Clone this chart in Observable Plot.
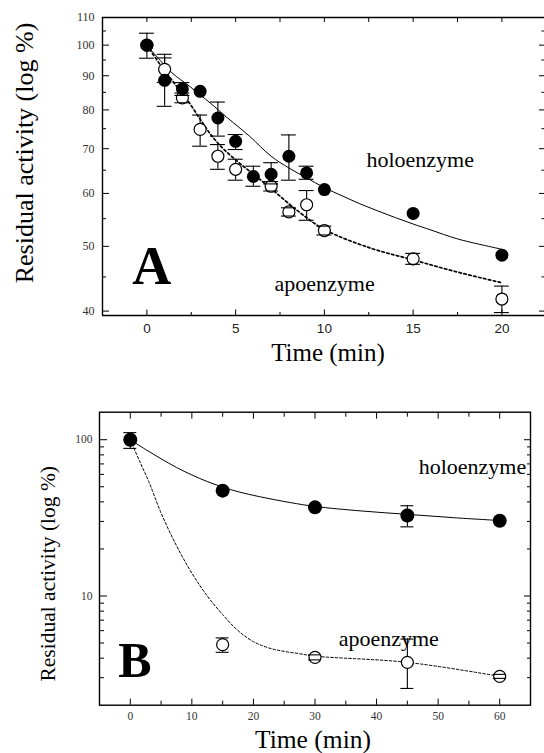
<!DOCTYPE html>
<html><head><meta charset="utf-8">
<script src="https://cdn.jsdelivr.net/npm/d3@7"></script>
<script src="https://cdn.jsdelivr.net/npm/@observablehq/plot@0.6"></script>
<style>
body{margin:0;background:#fff;}
#wrap{position:relative;width:544px;height:753px;overflow:hidden;background:#fff;}
.panel{position:absolute;left:0;}
.title{position:absolute;font-family:"Liberation Serif",serif;color:#000;white-space:nowrap;text-align:center;line-height:1;}
</style></head><body>
<div id="wrap">
  <div id="pa" class="panel" style="top:0px"></div>
  <div id="pb" class="panel" style="top:390px"></div>
  <div class="title" id="yTitleA"></div>
  <div class="title" id="xTitleA"></div>
  <div class="title" id="yTitleB"></div>
  <div class="title" id="xTitleB"></div>
</div>
<script>
// ---------------- Panel A data ----------------
const holoTimeA = [0, 1, 2, 3, 4, 5, 6, 7, 8, 9, 10, 15, 20];
const holoA     = [100, 88.6, 86.0, 85.3, 77.8, 71.8, 63.6, 64.1, 68.2, 64.4, 60.8, 56.0, 48.5];
const holoLoA   = [95.6, 81.0, 84.1, null, 73.1, 69.8, 61.5, 62.0, 62.8, 63.0, null, null, null];
const holoHiA   = [104.2, 95.7, 87.9, null, 82.2, 73.5, 65.9, 66.7, 73.4, 65.9, null, null, null];

const apoTimeA = [0, 1, 2, 3, 4, 5, 7, 8, 9, 10, 15, 20];
const apoA     = [100, 92.0, 83.4, 74.8, 68.2, 65.2, 61.5, 56.3, 57.7, 52.8, 47.9, 41.7];
const apoLoA   = [null, 88.0, 82.0, 70.6, 65.2, 62.8, 60.5, 55.5, 54.7, 52.0, 47.0, 39.8];
const apoHiA   = [null, 96.9, 84.8, 78.6, 71.0, 67.5, 62.5, 57.1, 60.6, 53.6, 48.8, 43.6];

// fitted curves
const holoFitTimeA = [0, 1.4, 2.4, 3.6, 4.5, 5.8, 7, 8, 9, 10, 11, 12, 13, 14, 15, 16, 17.5, 20];
const holoFitA     = [100, 91, 86.8, 81.8, 78, 73, 68.2, 65.5, 63.3, 61.2, 59.5, 57.9, 56.5, 55.2, 54.0, 52.9, 51.3, 49.5];
const apoFitTimeA  = [0, 0.75, 1.5, 2.25, 3, 3.6, 4.3, 5.25, 6.2, 7, 8.5, 10, 12.6, 14.9, 17.3, 20];
const apoFitA      = [100, 93.5, 88, 83, 77.5, 73.5, 70, 66.5, 63.5, 61, 56.5, 53, 49.7, 47.8, 45.9, 44.1];

const xDomainA = [-2.5, 22.4];
const yDomainA = [39.4, 110];
const xMajorA = [0, 5, 10, 15, 20];
const xMinorA = [2.5, 7.5, 12.5, 17.5];
const yMajorA = [40, 50, 60, 70, 80, 90, 100, 110];
const yMinorA = [45, 55, 65, 75, 85, 95, 105];

const annTextA = ["holoenzyme", "apoenzyme"];
const annXA = [12.37, 7.19];
const annYA = [67.3, 43.9];
const panelLabelA = ["A"];
const panelLabelXA = [-0.83];
const panelLabelYA = [46.6];

// ---------------- Panel B data ----------------
const holoTimeB = [0, 15, 30, 45, 60];
const holoB     = [100, 47.2, 36.9, 32.7, 30.3];
const holoLoB   = [88, null, null, 27.7, null];
const holoHiB   = [111, null, null, 37.8, null];

const apoTimeB = [0, 15, 30, 45, 60];
const apoB     = [100, 4.88, 4.05, 3.76, 3.06];
const apoLoB   = [null, 4.36, 3.9, 2.56, 2.97];
const apoHiB   = [null, 5.39, 4.2, 5.3, 3.15];

const holoFitTimeB = [0, 2.5, 5, 7.5, 10, 12.5, 15, 17.5, 21, 26, 30, 37.5, 45, 52.5, 60];
const holoFitB     = [100, 86.5, 75.5, 66.5, 59.5, 54, 49.8, 46.5, 43.2, 39.6, 37.4, 35, 33.3, 31.7, 30.4];
const apoFitTimeB  = [0, 1.5, 3, 5, 7.5, 10, 12.5, 15, 17.5, 20, 22.5, 25, 27.5, 30, 45, 60];
const apoFitB      = [100, 73, 54, 34, 21, 14, 10, 7.6, 6.0, 5.1, 4.65, 4.42, 4.27, 4.12, 3.76, 3.06];

const xDomainB = [-5, 65];
const yDomainB = [2, 150];
const xMajorB = [0, 10, 20, 30, 40, 50, 60];
const xMinorB = [5, 15, 25, 35, 45, 55];
const yMajorB = [10, 100];
const yMinorB = [3, 4, 5, 6, 7, 8, 9, 20, 30, 40, 50, 60, 70, 80, 90];

const annTextB = ["holoenzyme", "apoenzyme"];
const annXB = [46.84, 33.84];
const annYB = [66.9, 5.33];
const panelLabelB = ["B"];
const panelLabelXB = [-1.95];
const panelLabelYB = [3.86];

// ---------------- helpers ----------------
const zip = (t, v, lo, hi) => t.map((d, i) => ({t: d, v: v[i], lo: lo ? lo[i] : null, hi: hi ? hi[i] : null}));
const errs = (rows) => rows.filter(d => d.lo != null && d.hi != null);
const serif = "Liberation Serif";
const blank = () => "";

function tickAxes(xMaj, xMin, yMaj, yMin, sz) {
  const o = {stroke: "black", strokeWidth: 1, label: null, tickFormat: blank};
  return [
    Plot.axisX({...o, anchor: "bottom", ticks: xMaj, tickSize: -sz.xb}),
    Plot.axisX({...o, anchor: "bottom", ticks: xMin, tickSize: -sz.xbm}),
    Plot.axisX({...o, anchor: "top", ticks: xMaj, tickSize: -sz.xt}),
    Plot.axisX({...o, anchor: "top", ticks: xMin, tickSize: -sz.xtm}),
    Plot.axisY({...o, anchor: "left", ticks: yMaj, tickSize: -sz.yl}),
    Plot.axisY({...o, anchor: "left", ticks: yMin, tickSize: -sz.ylm}),
    Plot.axisY({...o, anchor: "right", ticks: yMaj, tickSize: -sz.yr}),
    Plot.axisY({...o, anchor: "right", ticks: yMin, tickSize: -sz.yrm})
  ];
}

function errMarks(rows, cap) {
  const e = errs(rows);
  return {
    bars: Plot.ruleX(e, {x: "t", y1: "lo", y2: "hi", stroke: "black", strokeWidth: 1.1}),
    caps: [
      Plot.ruleY(e, {y: "lo", x1: d => d.t - cap, x2: d => d.t + cap, stroke: "black", strokeWidth: 1.1}),
      Plot.ruleY(e, {y: "hi", x1: d => d.t - cap, x2: d => d.t + cap, stroke: "black", strokeWidth: 1.1})
    ]
  };
}

// ---------------- Panel A ----------------
const holoRowsA = zip(holoTimeA, holoA, holoLoA, holoHiA);
const apoRowsA = zip(apoTimeA, apoA, apoLoA, apoHiA);
const holoErrA = errMarks(holoRowsA, 0.42);
const apoErrA = errMarks(apoRowsA, 0.42);

const plotA = Plot.plot({
  width: 544, height: 375,
  marginLeft: 102, marginRight: 0, marginTop: 17, marginBottom: 60,
  x: {domain: xDomainA},
  y: {type: "log", domain: yDomainA},
  style: {background: "white", fontFamily: serif, overflow: "visible"},
  marks: [
    Plot.ruleX([xDomainA[0]], {stroke: "black", strokeWidth: 1.4}),
    Plot.ruleY(yDomainA, {stroke: "black", strokeWidth: 1.4}),
    ...tickAxes(xMajorA, xMinorA, yMajorA, yMinorA, {xb: 5.5, xbm: 3, xt: 4, xtm: 4, yl: 7, ylm: 4, yr: 6, yrm: 3.5}),
    Plot.axisX({anchor: "bottom", ticks: xMajorA, tickSize: 0, tickPadding: 8, label: null,
      tickFormat: d => String(d), fontFamily: "Liberation Sans", fontSize: 13.5, fill: "#222"}),
    Plot.axisY({anchor: "left", ticks: yMajorA, tickSize: 0, tickPadding: 8, label: null,
      tickFormat: d => String(d), fontFamily: serif, fontSize: 12, fill: "#333"}),
    Plot.line(zip(holoFitTimeA, holoFitA), {x: "t", y: "v", stroke: "black", strokeWidth: 1, curve: "catmull-rom"}),
    Plot.line(zip(apoFitTimeA, apoFitA), {x: "t", y: "v", stroke: "black", strokeWidth: 1.7, strokeDasharray: "2.5,2.5", curve: "catmull-rom"}),
    apoErrA.bars, holoErrA.bars,
    Plot.dot(apoRowsA, {x: "t", y: "v", r: 6, fill: "white", stroke: "black", strokeWidth: 1.2}),
    Plot.dot(holoRowsA, {x: "t", y: "v", r: 6.5, fill: "black"}),
    ...apoErrA.caps, ...holoErrA.caps,
    Plot.text(annTextA, {x: (d, i) => annXA[i], y: (d, i) => annYA[i], text: d => d, textAnchor: "start",
      lineAnchor: "middle", fontSize: 22, fontFamily: serif, fill: "black"}),
    Plot.text(panelLabelA, {x: (d, i) => panelLabelXA[i], y: (d, i) => panelLabelYA[i], text: d => d, textAnchor: "start",
      lineAnchor: "middle", fontSize: 54, fontWeight: "bold", fontFamily: serif, fill: "black"})
  ]
});
document.getElementById("pa").appendChild(plotA);

// ---------------- Panel B ----------------
const holoRowsB = zip(holoTimeB, holoB, holoLoB, holoHiB);
const apoRowsB = zip(apoTimeB, apoB, apoLoB, apoHiB);
const holoErrB = errMarks(holoRowsB, 1.05);
const apoErrB = errMarks(apoRowsB, 1.05);

const plotB = Plot.plot({
  width: 544, height: 363,
  marginLeft: 99, marginRight: 14, marginTop: 21.7, marginBottom: 48.3,
  x: {domain: xDomainB},
  y: {type: "log", domain: yDomainB},
  style: {background: "white", fontFamily: serif, overflow: "visible"},
  marks: [
    Plot.frame({stroke: "black", strokeWidth: 1.4}),
    ...tickAxes(xMajorB, xMinorB, yMajorB, yMinorB, {xb: 6, xbm: 4, xt: 6, xtm: 4, yl: 8, ylm: 5, yr: 7, yrm: 4}),
    Plot.axisX({anchor: "bottom", ticks: xMajorB, tickSize: 0, tickPadding: 7, label: null,
      tickFormat: d => String(d), fontFamily: serif, fontSize: 11.5, fill: "#333"}),
    Plot.axisY({anchor: "left", ticks: yMajorB, tickSize: 0, tickPadding: 7, label: null,
      tickFormat: d => String(d), fontFamily: serif, fontSize: 11.5, fill: "#333"}),
    Plot.line(zip(holoFitTimeB, holoFitB), {x: "t", y: "v", stroke: "black", strokeWidth: 1, curve: "catmull-rom"}),
    Plot.line(zip(apoFitTimeB, apoFitB), {x: "t", y: "v", stroke: "black", strokeWidth: 1, strokeDasharray: "2.5,2", curve: "catmull-rom"}),
    apoErrB.bars, holoErrB.bars,
    Plot.dot(apoRowsB, {x: "t", y: "v", r: 6, fill: "white", stroke: "black", strokeWidth: 1.2}),
    Plot.dot(holoRowsB, {x: "t", y: "v", r: 7, fill: "black"}),
    ...apoErrB.caps, ...holoErrB.caps,
    Plot.text(annTextB, {x: (d, i) => annXB[i], y: (d, i) => annYB[i], text: d => d, textAnchor: "start",
      lineAnchor: "middle", fontSize: 22, fontFamily: serif, fill: "black"}),
    Plot.text(panelLabelB, {x: (d, i) => panelLabelXB[i], y: (d, i) => panelLabelYB[i], text: d => d, textAnchor: "start",
      lineAnchor: "middle", fontSize: 50, fontWeight: "bold", fontFamily: serif, fill: "black"})
  ]
});
document.getElementById("pb").appendChild(plotB);

// ---------------- axis titles ----------------
function setTitle(id, text, fs, cx, cy, rotate) {
  const el = document.getElementById(id);
  el.textContent = text;
  el.style.fontSize = fs + "px";
  const w = 400;
  el.style.width = w + "px";
  el.style.left = (cx - w / 2) + "px";
  el.style.top = (cy - fs / 2) + "px";
  if (rotate) el.style.transform = "rotate(-90deg)";
}
setTitle("yTitleA", "Residual activity (log %)", 26, 25, 153, true);
setTitle("xTitleA", "Time (min)", 25, 328, 361 - 0.3375 * 25, false);
setTitle("yTitleB", "Residual activity (log %)", 21.5, 49, 574, true);
setTitle("xTitleB", "Time (min)", 25.5, 313, 748 - 0.3375 * 25.5, false);
</script>
</body></html>
